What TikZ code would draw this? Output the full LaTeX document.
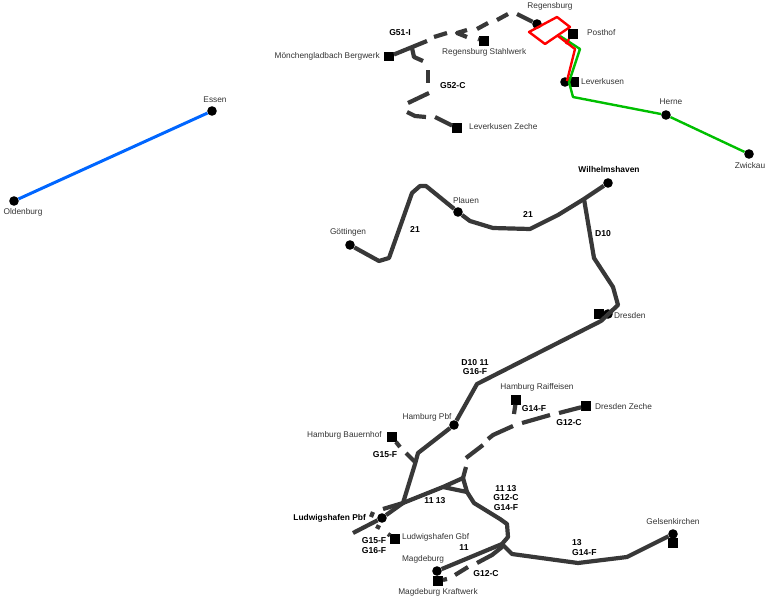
\documentclass[tikz,border=0pt]{standalone}
\usepackage{fontspec}
\setmainfont{Liberation Sans}
\tikzset{
  stationdot/.style={circle,fill=black,inner sep=0pt,minimum size=9.6pt},
  stationbox/.style={rectangle,fill=black,inner sep=0pt,minimum size=9.4pt},
  stationname/.style={inner sep=0pt,font=\fontsize{8.3}{10}\selectfont,text=black!80},
  stationbold/.style={inner sep=0pt,font=\fontsize{8.4}{10}\selectfont\bfseries},
  linelabel/.style={inner sep=0pt,font=\fontsize{8.6}{9.3}\selectfont\bfseries,align=center},
  track/.style={draw=black!78,line width=4.2pt,line join=round},
  bluetrack/.style={draw=blue!60!cyan,line width=3pt},
  greentrack/.style={draw=green!75!black,line width=2.4pt,line join=round},
  redtrack/.style={draw=red,line width=2.4pt,line join=round}
}
\begin{document}
\begin{tikzpicture}[x=1pt,y=-1pt]
\useasboundingbox (0,0) rectangle (771,600);
%% stations
\node[stationdot] (oldenburg) at (14,201) {};
\node[stationdot] (essen) at (212,111) {};
\node[stationbox] (bergwerk) at (389,56.5) {};
\node[stationbox] (stahlwerk) at (484,41) {};
\node[stationbox] (zeche) at (457,128) {};
\node[stationdot] (regensburg) at (537,24) {};
\node[stationbox] (posthof) at (573,34) {};
\node[stationdot] (leverkusen) at (565,82) {};
\node[stationbox] (leverkusenb) at (574,82) {};
\node[stationdot] (herne) at (666,115) {};
\node[stationdot] (zwickau) at (749,154) {};
\node[stationdot] (goettingen) at (350,245) {};
\node[stationdot] (plauen) at (458,212) {};
\node[stationdot] (wilhelmshaven) at (608,183) {};
\node[stationbox] (dresdenb) at (599,314) {};
\node[stationdot] (dresden) at (608,314) {};
\node[stationdot] (hamburg) at (454,425) {};
\node[stationbox] (raiffeisen) at (516,400) {};
\node[stationbox] (dzeche) at (586,406) {};
\node[stationbox] (bauernhof) at (392,437) {};
\node[stationdot] (ludwigshafen) at (382,518) {};
\node[stationbox] (gbf) at (395,539) {};
\node[stationdot] (magdeburg) at (437,571) {};
\node[stationbox] (kraftwerk) at (438,581) {};
\node[stationdot] (gelsenkirchen) at (673,534) {};
\node[stationbox] (gelsenb) at (673,543) {};
%% labels
\node[stationname] (l1) at (23,212) {Oldenburg};
\node[stationname] (l2) at (215,100) {Essen};
\node[stationname,anchor=east] (l3) at (380,56) {Mönchengladbach Bergwerk};
\node[stationname,anchor=west] (l4) at (442,52) {Regensburg Stahlwerk};
\node[stationname,anchor=west] (l5) at (469,127) {Leverkusen Zeche};
\node[stationname] (l6) at (550,6) {Regensburg};
\node[stationname,anchor=west] (l7) at (587,33) {Posthof};
\node[stationname,anchor=west] (l8) at (581,82) {Leverkusen};
\node[stationname] (l9) at (671,102) {Herne};
\node[stationname] (l10) at (750,166) {Zwickau};
\node[stationname] (l11) at (348,232) {Göttingen};
\node[stationname] (l12) at (466,201) {Plauen};
\node[stationbold] (l13) at (609,169) {Wilhelmshaven};
\node[stationname,anchor=west] (l14) at (614,315.5) {Dresden};
\node[stationname] (l15) at (427,417) {Hamburg Pbf};
\node[stationname] (l16) at (537,387) {Hamburg Raiffeisen};
\node[stationname,anchor=west] (l17) at (595,407) {Dresden Zeche};
\node[stationname,anchor=east] (l18) at (382,435) {Hamburg Bauernhof};
\node[stationbold,anchor=east] (l19) at (366,518) {Ludwigshafen Pbf};
\node[stationname,anchor=west] (l20) at (402,537) {Ludwigshafen Gbf};
\node[stationname] (l21) at (423,559) {Magdeburg};
\node[stationname] (l22) at (438,592) {Magdeburg Kraftwerk};
\node[stationname] (l23) at (673,522) {Gelsenkirchen};
%% line numbers
\node[linelabel] (n1) at (400,33) {G51-I};
\node[linelabel,anchor=west] (n2) at (440,86) {G52-C};
\node[linelabel] (n3) at (415,229) {21};
\node[linelabel] (n4) at (528,214) {21};
\node[linelabel,anchor=west] (n5) at (595,234) {D10};
\node[linelabel] (n6) at (475,367) {D10 11\\G16-F};
\node[linelabel] (n7) at (534,409) {G14-F};
\node[linelabel] (n8) at (569,423) {G12-C};
\node[linelabel] (n9) at (385,455) {G15-F};
\node[linelabel] (n10) at (435,501) {11 13};
\node[linelabel] (n11) at (506,498) {11 13\\G12-C\\G14-F};
\node[linelabel] (n12) at (374,545.5) {G15-F\\G16-F};
\node[linelabel] (n13) at (464,548) {11};
\node[linelabel] (n14) at (486,574) {G12-C};
\node[linelabel,anchor=west,align=left] (n15) at (572,547.5) {13\\G14-F};
%% bends of the main lines
\coordinate (a1) at (379,261);
\coordinate (a2) at (389,258);
\coordinate (a3) at (412,193);
\coordinate (a4) at (420,186);
\coordinate (a5) at (426,186);
\coordinate (a6) at (470,221);
\coordinate (a7) at (493,228);
\coordinate (a8) at (530,229);
\coordinate (a9) at (558,215);
\coordinate (a10) at (584,199);
\coordinate (b1) at (594,258);
\coordinate (b2) at (613,287);
\coordinate (b3) at (618,305);
\coordinate (b4) at (601,321);
\coordinate (b5) at (477,384);
\coordinate (b6) at (418,453);
\coordinate (b7) at (415,464);
\coordinate (b8) at (403,503);
\coordinate (b9) at (353,533);
\coordinate (c1) at (463,478);
\coordinate (c2) at (443,487);
\coordinate (c3) at (467,492);
\coordinate (c4) at (466,467);
\coordinate (c5) at (474,503);
\coordinate (c6) at (500,519);
\coordinate (c7) at (507,524);
\coordinate (c8) at (508,537);
\coordinate (c9) at (502,544);
\coordinate (d1) at (512,554);
\coordinate (d2) at (578,563);
\coordinate (d3) at (627,557);
%% green and red
\coordinate (e1) at (560,36);
\coordinate (e2) at (580,49);
\coordinate (e3) at (569,82);
\coordinate (e4) at (573,97);
\coordinate (f1) at (557,17);
\coordinate (f2) at (570,27);
\coordinate (f3) at (545,44);
\coordinate (f4) at (529,32);
\coordinate (f5) at (558,36);
\coordinate (f6) at (575,49);
\coordinate (f7) at (567,81);
\coordinate (f8) at (569,39);
\coordinate (f9) at (566,44);
%% dashes at the top
\coordinate (g1) at (427,41);
\coordinate (g2) at (434,37);
\coordinate (g3) at (447,33);
\coordinate (g4) at (467,30);
\coordinate (g5) at (457,33);
\coordinate (g6) at (467,37);
\coordinate (g7) at (478,39);
\coordinate (g8) at (477,29);
\coordinate (g9) at (488,23);
\coordinate (g10) at (497,20);
\coordinate (g11) at (508,14);
\coordinate (g12) at (517,14);
\coordinate (h1) at (412,48);
\coordinate (h2) at (414,57);
\coordinate (h3) at (423,61);
\coordinate (h4) at (428,70);
\coordinate (h5) at (428,83);
\coordinate (h6) at (429,93);
\coordinate (h7) at (408,103);
\coordinate (h8) at (407,112);
\coordinate (h9) at (415,116);
\coordinate (h10) at (426,117);
\coordinate (h11) at (435,117);
%% dashes at the bottom
\coordinate (i1) at (514,414);
\coordinate (i2) at (559,413);
\coordinate (i3) at (550,415);
\coordinate (i4) at (522,423);
\coordinate (i5) at (513,426);
\coordinate (i6) at (493,435);
\coordinate (i7) at (488,439);
\coordinate (i8) at (483,445);
\coordinate (i9) at (466,458);
\coordinate (j1) at (400,447);
\coordinate (j2) at (406,453);
\coordinate (j3) at (416,463);
\coordinate (j4) at (383,509);
\coordinate (j5) at (373,512);
\coordinate (j6) at (371,517);
\coordinate (j7) at (376,526);
\coordinate (j8) at (380,528);
\coordinate (j9) at (388,534);
\coordinate (k1) at (502,547);
\coordinate (k2) at (492,555);
\coordinate (k3) at (477,563);
\coordinate (k4) at (468,567);
\coordinate (k5) at (455,575);
\coordinate (k6) at (447,579);
%% lines
\draw[bluetrack] (oldenburg) -- (essen);
\draw[greentrack] (e1) -- (e2) -- (e3) -- (e4) -- (herne) -- (zwickau);
\draw[redtrack] (f1) -- (f2) -- (f3) -- (f4) -- cycle;
\draw[redtrack] (f5) -- (f6) -- (f7);
\draw[redtrack] (f8) -- (f9);
\draw[track] (goettingen) -- (a1) -- (a2) -- (a3) -- (a4) -- (a5) -- (plauen) -- (a6) -- (a7) -- (a8) -- (a9) -- (a10) -- (wilhelmshaven);
\draw[track] (a10) -- (b1) -- (b2) -- (b3) -- (b4) -- (b5) -- (hamburg) -- (b6) -- (b7) -- (b8) -- (ludwigshafen) -- (b9);
\draw[track] (b8) -- (c2) -- (c1) -- (c3) -- (c2);
\draw[track] (c4) -- (c1);
\draw[track] (c3) -- (c5) -- (c6) -- (c7) -- (c8) -- (c9) -- (magdeburg);
\draw[track] (c9) -- (d1) -- (d2) -- (d3) -- (gelsenkirchen);
%% broken lines
\draw[track] (bergwerk) -- (g1);
\draw[track] (g2) -- (g3);
\draw[track] (g4) -- (g5) -- (g6);
\draw[track] (g7) -- (stahlwerk);
\draw[track] (g8) -- (g9);
\draw[track] (g10) -- (g11);
\draw[track] (g12) -- (regensburg);
\draw[track] (h1) -- (h2) -- (h3);
\draw[track] (h4) -- (h5);
\draw[track] (h6) -- (h7);
\draw[track] (h8) -- (h9) -- (h10);
\draw[track] (h11) -- (zeche);
\draw[track] (raiffeisen) -- (i1);
\draw[track] (dzeche) -- (i2);
\draw[track] (i3) -- (i4);
\draw[track] (i5) -- (i6) -- (i7);
\draw[track] (i8) -- (i9);
\draw[track] (bauernhof) -- (j1);
\draw[track] (j2) -- (j3);
\draw[track] (b8) -- (j4);
\draw[track] (j5) -- (j6);
\draw[track] (j7) -- (j8);
\draw[track] (j9) -- (gbf);
\draw[track] (c9) -- (k1) -- (k2) -- (k3);
\draw[track] (k4) -- (k5);
\draw[track] (k6) -- (kraftwerk);
\end{tikzpicture}
\end{document}
